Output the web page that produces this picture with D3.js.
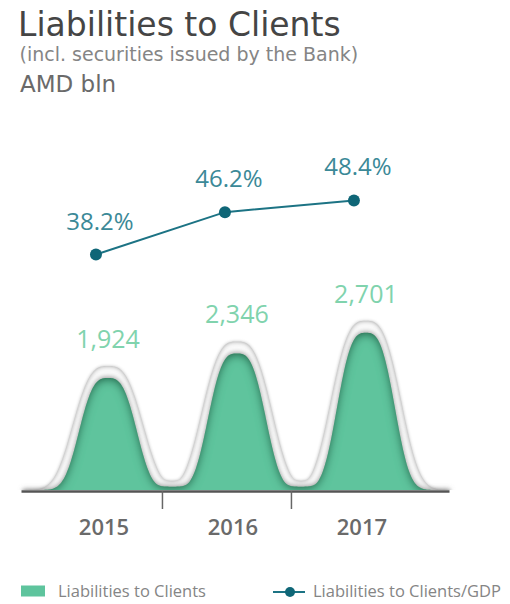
<!DOCTYPE html>
<html>
<head>
<meta charset="utf-8">
<title>Liabilities to Clients</title>
<style>
body { margin: 0; background: #fff; }
svg text { font-family: "Open Sans", sans-serif; }
.head { font-family: "DejaVu Sans", sans-serif; }
</style>
</head>
<body>
<svg id="chart" width="510" height="604"></svg>
<script src="https://cdn.jsdelivr.net/npm/d3@7"></script>
<script>

var years = ["2015", "2016", "2017"];
var liabilities = [1924, 2346, 2701];
var ratioGDP = [38.2, 46.2, 48.4];
var legendLabels = ["Liabilities to Clients", "Liabilities to Clients/GDP"];

var svg = d3.select("#chart"),
    base = 490;

var x = d3.scaleBand()
    .domain(years)
    .range([21, 449])
    .paddingOuter(0.159)
    .align(0.45);

var yBar = d3.scaleLinear().domain([0, 2800]).range([base, base - 163]);
var yLine = d3.scaleLinear().domain([30, 50]).range([298, 192]);

function mid(d) { return x(d) + x.bandwidth() / 2; }

// titles
svg.append("text").attr("class", "head")
    .attr("x", 18).attr("y", 36)
    .attr("font-size", 33).attr("fill", "#454545")
    .text("Liabilities to Clients");
svg.append("text").attr("class", "head")
    .attr("x", 19.5).attr("y", 61)
    .attr("font-size", 19).attr("fill", "#858585")
    .text("(incl. securities issued by the Bank)");
svg.append("text").attr("class", "head")
    .attr("x", 20).attr("y", 92)
    .attr("font-size", 23).attr("fill", "#6a6a6a")
    .text("AMD bln");

// filters for the bumpy "wave" bars
var defs = svg.append("defs");

defs.append("clipPath").attr("id", "aboveAxis")
  .append("rect").attr("x", 0).attr("y", 0).attr("width", 510).attr("height", base);

var hf = defs.append("filter").attr("id", "haloShade")
    .attr("x", "-10%").attr("y", "-20%").attr("width", "120%").attr("height", "140%");
hf.append("feFlood").attr("flood-color", "#7d7d7d").attr("result", "c");
hf.append("feComposite").attr("in", "c").attr("in2", "SourceAlpha").attr("operator", "out").attr("result", "o");
hf.append("feGaussianBlur").attr("in", "o").attr("stdDeviation", 2.6).attr("result", "b");
hf.append("feComposite").attr("in", "b").attr("in2", "SourceAlpha").attr("operator", "in").attr("result", "inner");
hf.append("feGaussianBlur").attr("in", "SourceAlpha").attr("stdDeviation", 1.5).attr("result", "sb");
hf.append("feFlood").attr("flood-color", "#c2c2c2").attr("result", "c2");
hf.append("feComposite").attr("in", "c2").attr("in2", "sb").attr("operator", "in").attr("result", "outer");
var hm = hf.append("feMerge");
hm.append("feMergeNode").attr("in", "outer");
hm.append("feMergeNode").attr("in", "SourceGraphic");
hm.append("feMergeNode").attr("in", "inner");

var gf = defs.append("filter").attr("id", "greenShade")
    .attr("x", "-10%").attr("y", "-20%").attr("width", "120%").attr("height", "140%");
gf.append("feFlood").attr("flood-color", "#115437").attr("result", "c");
gf.append("feComposite").attr("in", "c").attr("in2", "SourceAlpha").attr("operator", "out").attr("result", "o");
gf.append("feGaussianBlur").attr("in", "o").attr("stdDeviation", 5).attr("result", "b");
gf.append("feOffset").attr("in", "b").attr("dy", 2).attr("result", "bo");
gf.append("feComposite").attr("in", "bo").attr("in2", "SourceAlpha").attr("operator", "in").attr("result", "inner");
gf.append("feGaussianBlur").attr("in", "SourceAlpha").attr("stdDeviation", 2.5).attr("result", "sb");
gf.append("feOffset").attr("in", "sb").attr("dy", -1.5).attr("result", "so");
gf.append("feFlood").attr("flood-color", "#888").attr("flood-opacity", 0.85).attr("result", "c2");
gf.append("feComposite").attr("in", "c2").attr("in2", "so").attr("operator", "in").attr("result", "outer");
var gm = gf.append("feMerge");
gm.append("feMergeNode").attr("in", "outer");
gm.append("feMergeNode").attr("in", "SourceGraphic");
gm.append("feMergeNode").attr("in", "inner");

// bell profile built from the bar scale
var peaks = years.map(function(d, i) {
  return { c: mid(d) + 4, h: base - yBar(liabilities[i]) };
});

function smax(a, b, k) { return k * Math.log(Math.exp(a / k) + Math.exp(b / k)); }

function profile(px, grow, s, floor) {
  var v = 0;
  peaks.forEach(function(p) {
    v = Math.max(v, (p.h + grow) * Math.exp(-Math.pow(Math.abs(px - p.c) / s, 3)));
  });
  if (px > peaks[0].c && px < peaks[peaks.length - 1].c) v = smax(v, floor, 2.5);
  return v;
}

var xs = d3.range(peaks[0].c - 85, peaks[peaks.length - 1].c + 85, 1);

function wave(grow, s, floor) {
  return d3.area()
    .x(function(d) { return d; })
    .y0(base + 20)
    .y1(function(d) { return base - profile(d, grow, s, floor); })(xs);
}

var bars = svg.append("g").attr("clip-path", "url(#aboveAxis)");
bars.append("path")
    .attr("d", wave(12, 41, 9))
    .attr("fill", "#fbfbfb")
    .attr("filter", "url(#haloShade)");
bars.append("path")
    .attr("d", wave(0, 33.5, 2.5))
    .attr("fill", "#5ec49d")
    .attr("filter", "url(#greenShade)");

// bar value labels
svg.append("g").selectAll("text")
    .data(liabilities)
    .enter().append("text")
    .attr("x", function(d, i) { return peaks[i].c; })
    .attr("y", function(d) { return yBar(d) - 30; })
    .attr("text-anchor", "middle")
    .attr("font-size", 25)
    .attr("fill", "#80d3ad")
    .text(function(d) { return d3.format(",")(d); });

// x axis
var axis = svg.append("g")
    .attr("transform", "translate(0," + (base + 1) + ")")
    .call(d3.axisBottom(x).tickSize(0).tickSizeOuter(0));
axis.select(".domain").attr("stroke", "#555").attr("stroke-width", 2.5);
axis.selectAll(".tick text")
    .attr("y", 44).attr("dy", null)
    .attr("font-family", "Open Sans").attr("font-weight", 600)
    .attr("font-size", 22).attr("fill", "#6a6a6a");

axis.selectAll(".sep")
    .data(years.slice(1))
    .enter().append("line")
    .attr("class", "sep")
    .attr("x1", function(d) { return x(d) - 6; })
    .attr("x2", function(d) { return x(d) - 6; })
    .attr("y1", 0).attr("y2", 18)
    .attr("stroke", "#666").attr("stroke-width", 1.5);

// ratio to GDP line
var line = d3.line()
    .x(function(d, i) { return mid(years[i]) - 8; })
    .y(function(d) { return yLine(d); });

svg.append("path")
    .datum(ratioGDP)
    .attr("d", line)
    .attr("fill", "none")
    .attr("stroke", "#1c7384")
    .attr("stroke-width", 2);

svg.append("g").selectAll("circle")
    .data(ratioGDP)
    .enter().append("circle")
    .attr("cx", function(d, i) { return mid(years[i]) - 8; })
    .attr("cy", function(d) { return yLine(d); })
    .attr("r", 6)
    .attr("fill", "#0f6677");

svg.append("g").selectAll("text")
    .data(ratioGDP)
    .enter().append("text")
    .attr("x", function(d, i) { return mid(years[i]) - 4; })
    .attr("y", function(d) { return yLine(d) - 25; })
    .attr("text-anchor", "middle")
    .attr("font-size", 24)
    .attr("fill", "#3b8997")
    .text(function(d) { return d.toFixed(1) + "%"; });

// legend
var legend = svg.append("g").attr("transform", "translate(0,591)");
legend.append("rect")
    .attr("x", 21).attr("y", -5.5).attr("width", 24).attr("height", 11)
    .attr("fill", "#5ec49d");
legend.append("line")
    .attr("x1", 273).attr("x2", 305).attr("y1", 1).attr("y2", 1)
    .attr("stroke", "#1c7384").attr("stroke-width", 2);
legend.append("circle")
    .attr("cx", 290).attr("cy", 1).attr("r", 5)
    .attr("fill", "#0f6677");
legend.selectAll("text")
    .data(legendLabels)
    .enter().append("text")
    .attr("x", function(d, i) { return i ? 313 : 58; })
    .attr("y", 0)
    .attr("dy", "0.35em")
    .attr("font-size", 16.5)
    .attr("fill", "#858585")
    .text(function(d) { return d; });

</script>
</body>
</html>
